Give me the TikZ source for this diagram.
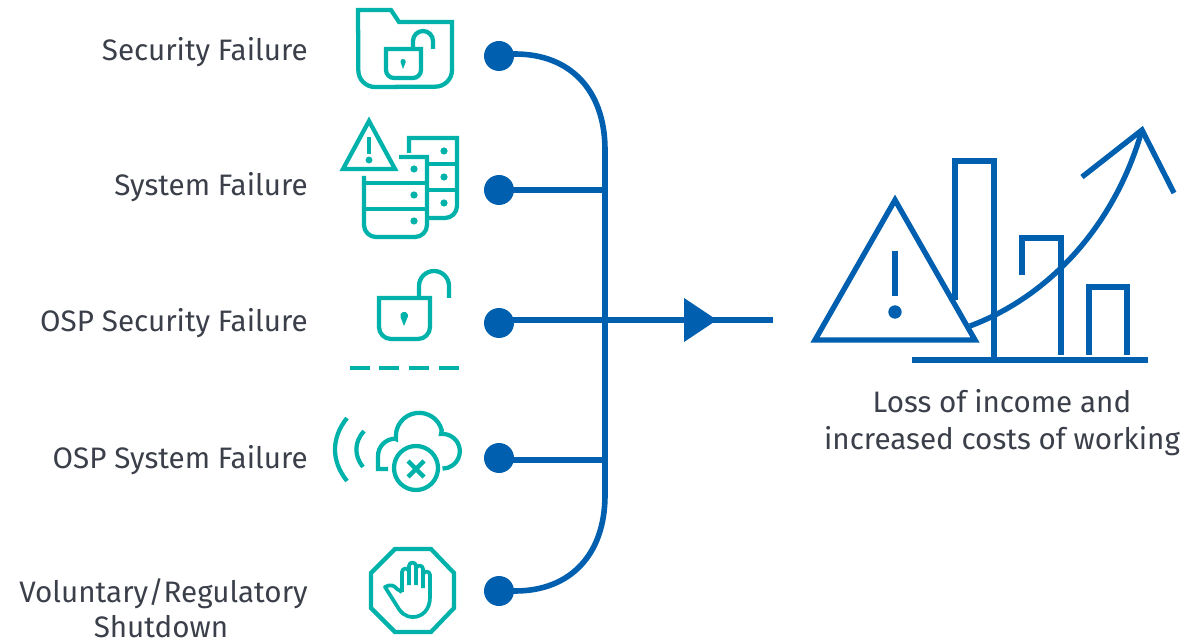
\documentclass[tikz,border=0pt]{standalone}
\usepackage{fontspec}
\setmainfont{Fira Sans}
\definecolor{teal}{HTML}{00B2A9}
\definecolor{blue}{HTML}{0060AF}
\definecolor{ink}{HTML}{3A3F4A}
\begin{document}
\begin{tikzpicture}[x=0.75pt,y=-0.75pt,
  lab/.style={font=\fontsize{22.2}{27}\selectfont,text=ink,inner sep=0pt,anchor=base east},
  rlab/.style={font=\fontsize{22.2}{27}\selectfont,text=ink,inner sep=0pt,anchor=base},
  ic/.style={draw=teal,line width=3.2pt,miter limit=10},
  bl/.style={draw=blue,line width=4pt},
  conn/.style={draw=blue,line width=4.2pt},
  dotn/.style={circle,fill=blue,minimum size=22.5pt,inner sep=0pt}]
\useasboundingbox (0,0) rectangle (1184,641);
% labels
\node[lab] (l1) at (308,60.7) {Security Failure};
\node[lab] (l2) at (308,195.7) {System Failure};
\node[lab] (l3) at (308,331) {OSP Security Failure};
\node[lab] (l4) at (308,468.7) {OSP System Failure};
\node[lab] (l5) at (308,602) {Voluntary/Regulatory};
\node[rlab] (l6) at (161,637) {Shutdown};
\node[rlab] (r1) at (1002,412) {Loss of income and};
\node[rlab] (r2) at (1002,449) {increased costs of working};
% folder icon
\draw[ic] (358,10) -- (391,10) -- (399,22) -- (452,22) -- (452,70) arc[start angle=0,end angle=-90,radius=12.5pt] -- (375,87) arc[start angle=-90,end angle=-180,radius=12.5pt] -- cycle;
\draw[ic] (386,49) -- (421,49) -- (421,70) arc[start angle=0,end angle=-90,radius=6pt] -- (394,78) arc[start angle=-90,end angle=-180,radius=6pt] -- cycle;
\draw[ic] (413,49) -- (413,41) arc[start angle=180,end angle=0,radius=7.5pt] -- (433,49);
\fill[teal] (403,69) -- (400.5,62) arc[start angle=190,end angle=-10,radius=2pt] -- cycle;
% system failure icon
\draw[ic] (369,121) -- (395,169) -- (343,169) -- cycle;
\draw[ic] (369,137) -- (369,154);
\fill[teal] (369,160) circle[radius=2.6pt];
\draw[ic] (409,153) -- (409,138) -- (457,138) -- (457,206) arc[start angle=0,end angle=-90,radius=9pt] -- (428,218);
\draw[ic] (428,164) -- (457,164) (428,190) -- (457,190);
\draw[ic] (399,157) -- (427,157) -- (427,225) arc[start angle=0,end angle=-90,radius=9pt] -- (376,237) arc[start angle=-90,end angle=-180,radius=9pt] -- (364,176);
\draw[ic] (364,183) -- (427,183) (364,209) -- (427,209);
\foreach \p in {(444,151),(444,177),(444,203),(414,169),(414,195),(414,221)} \fill[teal] \p circle[radius=2.7pt];
% OSP lock icon
\draw[ic] (379,298) -- (430,298) -- (430,327) arc[start angle=0,end angle=-90,radius=9pt] -- (391,339) arc[start angle=-90,end angle=-180,radius=9pt] -- cycle;
\draw[ic] (419,298) -- (419,286) arc[start angle=180,end angle=0,radius=11.25pt] -- (449,298);
\fill[teal] (404,326) -- (400.5,317) arc[start angle=200,end angle=-20,radius=2.9pt] -- cycle;
% dashes
\draw[ic] (350,368) -- (370,368) (379,368) -- (399,368) (409,368) -- (429,368) (439,368) -- (459,368);
% cloud icon
\draw[ic] (388,469) -- (378,469) -- (378,456) arc[start angle=180,end angle=90,radius=13pt] -- (396,439) arc[start angle=187,end angle=15,radius=17.5pt] -- (441,434) arc[start angle=95,end angle=-90,radius=13pt] ;
\draw[ic] (416,468) circle[radius=16.5pt];
\draw[ic] (408,461) -- (424,477) (424,461) -- (408,477);
\draw[ic] (347,418) .. controls (331,438) and (331,461) .. (347,481);
\draw[ic] (364,431) .. controls (354,442) and (354,456) .. (363,467);
% stop icon
\draw[ic] (395,549) -- (431,549) -- (454,573) -- (454,608) -- (431,632) -- (395,632) -- (371,608) -- (371,573) -- cycle;
\begin{scope}[ic,line width=2.8pt,line join=round]
\draw (402,592) -- (402,572) arc[start angle=180,end angle=0,radius=2.63pt] -- (409,585);
\draw (409,572) -- (409,566) arc[start angle=180,end angle=0,radius=2.63pt] -- (416,585);
\draw (416,569) arc[start angle=180,end angle=0,radius=2.63pt] -- (423,588);
\draw (423,575) arc[start angle=180,end angle=0,radius=2.63pt] -- (430,597) .. controls (430,610) and (422,617) .. (413,617) .. controls (405,617) and (400,612) .. (397,606) -- (385,587) .. controls (390,584) and (394,585) .. (397,589) -- (402,592);
\end{scope}
% connectors
\node[dotn] (d1) at (499,56) {};
\node[dotn] (d2) at (499,190) {};
\node[dotn] (d3) at (499,323) {};
\node[dotn] (d4) at (499,458) {};
\node[dotn] (d5) at (499,591) {};
\coordinate (j1) at (515,54);
\coordinate (j2) at (605,190);
\coordinate (j3) at (605,320);
\coordinate (j4) at (605,460);
\coordinate (j5) at (515,591);
\coordinate (out) at (773,320);
\draw[conn] (d1 |- j1) -- (j1) .. controls (570,54) and (605,90) .. (605,150) -- (605,495) .. controls (605,555) and (570,591) .. (j5) -- (d5.center);
\draw[conn] (d2.center) -- (j2);
\draw[conn] (d3 |- j3) -- (out);
\draw[conn] (d4 |- j4) -- (j4);
\fill[blue] (717,320) -- (684,298) -- (684,342) -- cycle;
% chart
\draw[bl] (955,300) -- (955,161) -- (994,161) -- (994,360);
\draw[bl] (1022,275) -- (1022,238) -- (1061,238) -- (1061,355);
\draw[bl] (1089,355) -- (1089,287) -- (1127,287) -- (1127,355);
\draw[bl] (912,360) -- (1148,360);
\draw[bl] (970,326) .. controls (1050,296) and (1115,225) .. (1142,130);
\draw[bl] (1082,177) -- (1142,130) -- (1174,193);
\draw[bl,fill=white] (895,200) -- (975,340) -- (815,340) -- cycle;
\draw[bl] (895,251) -- (895,296);
\fill[blue] (895,312) circle[radius=5pt];
\end{tikzpicture}
\end{document}
